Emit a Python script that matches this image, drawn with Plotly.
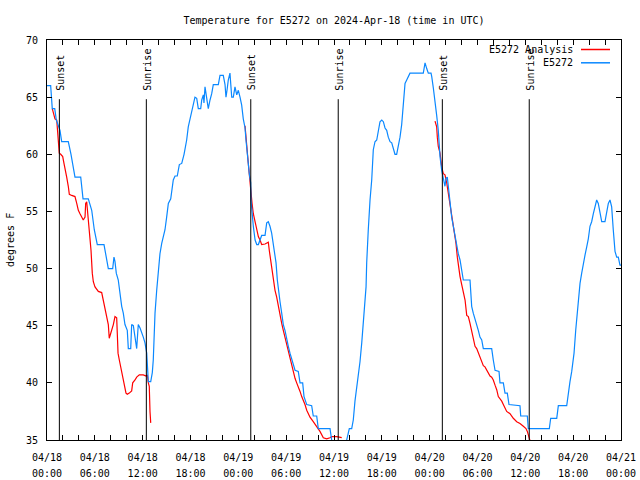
import plotly.graph_objects as go
import pandas as pd

START = pd.Timestamp("2024-04-18 00:00")

# ---- E5272 observations (hours since 04/18 00:00 UTC, degrees F) ----
obs_hours = [0.00, 0.46, 0.66, 0.97, 1.17, 1.63, 1.84, 2.67, 3.01, 3.51, 4.23, 4.52, 5.18, 5.61, 5.93,
             6.31, 7.15, 7.28, 7.69, 8.24, 8.40, 8.53, 8.69, 8.94, 9.16, 9.37, 9.57, 9.78, 10.07, 10.20,
             10.50, 10.62, 10.83, 11.04, 11.25, 11.45, 11.67, 12.08, 12.29, 12.51, 12.58, 12.71, 13.01,
             13.21, 13.33, 13.42, 13.55, 13.76, 13.96, 14.17, 14.39, 14.80, 15.01, 15.22, 15.52, 15.84,
             16.06, 16.34, 16.60, 16.90, 17.19, 17.52, 17.72, 18.03, 18.28, 18.44, 18.56, 18.78, 18.98,
             19.28, 19.41, 19.61, 19.69, 19.82, 20.03, 20.23, 20.45, 20.66, 20.86, 21.49, 21.70, 22.11,
             22.33, 22.45, 22.58, 22.74, 22.95, 23.04, 23.17, 23.37, 23.58, 23.80, 24.00, 24.21, 24.42,
             24.62, 24.84, 24.96, 25.05, 25.25, 25.37, 25.55, 25.59, 25.72, 25.88, 26.10, 26.31, 26.51,
             26.72, 26.93, 27.35, 27.56, 27.76, 27.97, 28.18, 28.39, 28.60, 28.73, 28.89, 29.01, 29.23,
             29.44, 29.64, 29.85, 30.07, 30.27, 30.48, 30.69, 30.90, 31.11, 31.52, 31.74, 32.07, 32.24,
             32.58, 33.20, 33.40, 33.83, 34.03, 35.50, 35.71, 35.87, 37.51, 37.59, 37.79, 37.92, 38.22,
             38.42, 38.63, 38.85, 39.05, 39.26, 39.48, 39.68, 39.89, 40.02, 40.10, 40.18, 40.30, 40.52,
             40.73, 40.93, 41.14, 41.36, 41.56, 41.77, 41.99, 42.19, 42.40, 42.61, 42.81, 43.03, 43.24,
             43.44, 43.65, 43.86, 44.07, 44.28, 44.49, 44.69, 44.91, 45.12, 45.53, 47.20, 47.42, 47.63,
             47.83, 48.17, 48.26, 48.46, 48.67, 48.88, 49.08, 49.30, 49.51, 49.71, 49.92, 50.05, 50.21,
             50.34, 50.46, 50.64, 50.76, 50.97, 51.18, 51.39, 51.59, 51.81, 52.02, 52.22, 53.06, 53.15,
             53.27, 53.47, 53.90, 54.10, 54.31, 54.53, 54.73, 55.78, 55.98, 56.20, 56.70, 56.82, 57.24,
             57.45, 57.74, 57.95, 59.33, 59.42, 60.25, 60.37, 63.01, 63.18, 63.94, 64.14, 65.19, 65.39,
             65.60, 65.82, 65.94, 66.11, 66.32, 66.45, 66.65, 66.86, 67.07, 67.28, 67.49, 67.70, 67.90,
             68.11, 68.32, 68.53, 68.74, 68.95, 69.15, 69.37, 69.58, 69.99, 70.20, 70.41, 70.62, 70.83,
             71.03, 71.25, 71.46, 71.66, 71.87, 72.00]
obs_temp = [66.0, 66.0, 64.0, 64.0, 63.0, 62.1, 61.1, 61.1, 60.0, 58.0, 58.0, 56.1, 56.1, 55.1, 53.4,
            52.1, 52.1, 51.6, 50.0, 50.0, 51.0, 50.6, 49.6, 49.0, 47.5, 46.7, 46.1, 45.1, 44.6, 43.0,
            43.0, 45.1, 45.0, 43.75, 43.0, 45.1, 44.8, 44.0, 43.5, 42.6, 41.4, 40.1, 40.1,
            40.9, 42.0, 44.0, 46.1, 48.1, 49.9, 51.3, 52.2, 53.4, 54.5, 55.7, 56.1, 57.75,
            58.1, 58.1, 59.1, 59.2, 60.0, 61.25, 62.4, 63.3, 64.2, 64.75, 65.0, 64.9, 64.0,
            64.0, 64.75, 65.2, 64.5, 65.9, 65.0, 64.0, 64.75, 65.3, 66.1, 66.1, 66.9, 66.9,
            66.1, 65.0, 65.6, 66.5, 67.1, 66.2, 65.0, 65.0, 65.9, 65.2, 65.6, 65.0, 64.3,
            63.1, 62.3, 61.25, 60.4, 59.2, 58.3, 57.5, 56.0, 54.8, 53.7, 52.5, 52.1, 52.1,
            52.6, 52.9, 52.9, 54.0, 54.1, 53.7, 53.1, 52.2, 51.3, 50.5, 49.0, 48.1, 47.1,
            46.1, 45.1, 44.6, 43.75, 43.2, 42.6, 42.15, 41.7, 41.1, 41.0, 40.0, 40.0, 38.8,
            38.1, 38.0, 37.1, 37.1, 36.0, 36.0, 35.0, 34.0, 34.0, 35.0, 35.6, 36.0, 36.0,
            36.75, 38.4, 39.5, 40.5, 41.85, 43.5, 45.2, 46.7, 48.4, 50.5, 52.2, 53.4, 56.0,
            57.75, 60.4, 61.1, 61.25, 62.1, 62.85, 63.0, 62.85, 62.3, 62.1, 61.5, 61.1, 61.0,
            60.4, 60.0, 60.0, 60.7, 61.5, 62.6, 64.2, 66.2, 66.5, 67.1, 67.1, 68.0, 67.5,
            67.1, 67.1, 66.8, 65.8, 64.75, 63.4, 62.1, 59.8, 58.6, 58.0, 57.2, 57.9, 58.0,
            57.2, 56.3, 55.4, 54.5, 53.7, 52.8, 52.2, 51.3, 50.75, 49.9, 49.0, 49.0, 47.5,
            46.7, 46.1, 45.2, 44.6, 44.0, 43.75, 43.0, 43.0, 42.0, 41.1, 41.0, 40.0, 40.0,
            39.1, 39.1, 38.1, 38.0, 37.1, 37.1, 36.0, 36.0, 36.9, 36.9, 38.0, 38.0, 39.25,
            40.1, 41.0, 41.7, 42.6, 44.6, 45.5, 47.5, 48.7, 49.6, 50.6, 51.2, 51.9, 52.6,
            53.7, 54.1, 54.8, 55.4, 56.0, 55.7, 54.8, 54.1, 54.1, 54.8, 55.7, 56.0, 55.4,
            53.4, 51.5, 51.0, 51.0, 50.3, 50.3]

# ---- E5272 Analysis (three separate runs; None breaks the line) ----
ana_hours = [0.66, 1.00, 1.22, 1.29, 1.42, 1.54, 1.72, 1.97, 2.13, 2.26, 2.47, 2.67, 2.80, 3.10, 3.51,
             3.73, 3.93, 4.14, 4.35, 4.55, 4.77, 4.85, 4.98, 5.18, 5.31, 5.39, 5.52, 5.68, 5.81, 6.02,
             6.23, 6.44, 6.86, 7.06, 7.28, 7.49, 7.69, 7.81, 7.99, 8.12, 8.32, 8.53, 8.74, 8.82, 8.91,
             9.07, 9.24, 9.41, 9.57, 9.78, 9.91, 10.07, 10.32, 10.62, 10.75, 11.04, 11.25, 11.58, 12.08,
             12.42, 12.58, 12.71, 12.83, 12.92, 13.01,
             13.02,
             24.84, 24.96, 25.13, 25.25, 25.37, 25.46, 25.59, 25.72, 25.88, 26.10, 26.31, 26.51, 26.72,
             26.93, 27.35, 27.76, 27.88, 28.06, 28.19, 28.39, 28.60, 28.81, 29.01, 29.23, 29.44, 29.64,
             29.85, 30.07, 30.27, 30.48, 30.69, 30.90, 31.11, 31.32, 31.52, 31.74, 31.95, 32.15, 32.36,
             32.58, 32.78, 32.99, 33.40, 33.83, 34.24, 34.66, 35.08, 35.50, 35.71, 36.34, 36.97,
             36.98,
             48.67, 48.88, 48.96, 49.08, 49.30, 49.51, 49.71, 49.92, 50.14, 50.34, 50.55, 50.76, 50.97,
             51.18, 51.30, 51.47, 51.59, 51.81, 52.02, 52.22, 52.44, 52.65, 52.85, 53.06, 53.27, 53.47,
             53.69, 53.90, 54.10, 54.31, 54.53, 54.73, 54.94, 55.15, 55.36, 55.57, 55.78, 55.98, 56.20,
             56.41, 56.61, 56.82, 57.04, 57.24, 57.45, 57.66, 58.08, 58.49, 58.92, 59.33, 59.75, 60.08,
             60.25, 60.42, 60.67, 60.77]
ana_temp = [64.0, 63.1, 63.0, 62.4, 61.5, 60.1, 60.0, 59.8, 59.2, 58.6, 58.0, 57.2, 56.5, 56.4, 56.3,
            55.7, 55.1, 54.8, 54.5, 54.25, 54.5, 55.7, 55.85, 54.5, 53.4, 52.6, 51.6, 49.6, 48.85, 48.4,
            48.2, 48.0, 47.9, 47.25, 46.7, 45.8, 45.1, 43.9, 44.3, 44.6, 45.1, 45.8, 45.7, 44.3, 42.6,
            42.0, 41.4, 40.8, 40.25, 39.7, 39.1, 39.0, 39.1, 39.3, 40.0, 40.25, 40.5, 40.7, 40.7,
            40.6, 40.7, 40.0, 39.7, 37.5, 36.5,
            None,
            62.5, 61.25, 60.4, 59.2, 58.3, 57.5, 56.6, 55.7, 54.8, 54.0, 53.4, 52.8, 52.5,
            52.1, 52.15, 52.3, 51.6, 50.75, 49.9, 49.0, 48.1, 47.5, 46.7, 46.1, 45.2, 44.6,
            44.0, 43.3, 42.7, 42.15, 41.7, 41.1, 40.4, 40.0, 39.7, 39.25, 38.8, 38.5, 38.1,
            37.6, 37.3, 37.0, 36.6, 36.2, 35.75, 35.2, 35.1, 35.2, 35.3, 35.3, 35.2,
            None,
            62.9, 62.4, 61.5, 60.7, 60.1, 58.9, 58.3, 58.2, 57.5, 56.6, 55.4, 54.5, 53.7,
            52.8, 52.2, 51.0, 50.2, 49.3, 48.6, 48.0, 47.25, 45.9, 45.8, 45.2, 44.6, 43.9,
            43.2, 43.0, 42.6, 42.15, 41.7, 41.5, 41.4, 41.1, 40.8, 40.6, 40.5, 40.25, 39.8,
            39.4, 38.8, 38.65, 38.4, 38.1, 37.8, 37.5, 37.3, 36.9, 36.6, 36.45, 36.2, 36.0,
            35.75, 35.3, 34.9, 34.5]

# ---- Sun events (hours since start) ----
sun_labels = ["Sunset", "Sunrise", "Sunset", "Sunrise", "Sunset", "Sunrise"]
sun_hours = [1.55, 12.46, 25.56, 36.53, 49.59, 60.49]

# ---- Axis ticks ----
y_ticks = [35, 40, 45, 50, 55, 60, 65, 70]
x_tick_hours = list(range(0, 73, 2))
x_date_text = {0: "04/18", 6: "04/18", 12: "04/18", 18: "04/18", 24: "04/19", 30: "04/19",
               36: "04/19", 42: "04/19", 48: "04/20", 54: "04/20", 60: "04/20", 66: "04/20", 72: "04/21"}
x_time_text = {0: "00:00", 6: "06:00", 12: "12:00", 18: "18:00", 24: "00:00", 30: "06:00",
               36: "12:00", 42: "18:00", 48: "00:00", 54: "06:00", 60: "12:00", 66: "18:00", 72: "00:00"}


def to_time(hours):
    return [START + pd.Timedelta(hours=h) for h in hours]


FONT = "DejaVu Sans Mono"
RED = "#ff0000"
BLUE = "#0a88ff"

fig = go.Figure()
fig.add_trace(go.Scatter(x=to_time(ana_hours), y=ana_temp, mode="lines", name="E5272 Analysis",
                         line=dict(color=RED, width=1.2), connectgaps=False))
fig.add_trace(go.Scatter(x=to_time(obs_hours), y=obs_temp, mode="lines", name="E5272",
                         line=dict(color=BLUE, width=1.2)))

shapes = []
annotations = []
for lab, h in zip(sun_labels, sun_hours):
    t = START + pd.Timedelta(hours=h)
    shapes.append(dict(type="line", xref="x", yref="paper", x0=t, x1=t, y0=0, y1=0.852,
                       line=dict(color="black", width=1), layer="above"))
    annotations.append(dict(x=t, y=0.869, xref="x", yref="paper", text=lab, textangle=-90,
                            showarrow=False, xanchor="center", yanchor="bottom", xshift=1,
                            font=dict(family=FONT, size=10, color="black")))

# manual gnuplot-style key (text left of sample line)
for i, (name, col) in enumerate([("E5272 Analysis", RED), ("E5272", BLUE)]):
    py = 49.5 + i * 13.3
    yp = (440 - py) / 400
    annotations.append(dict(x=(575 - 47) / 574, y=yp, xref="paper", yref="paper", text=name,
                            showarrow=False, xanchor="right", yanchor="middle",
                            font=dict(family=FONT, size=10, color="black")))
    shapes.append(dict(type="line", xref="paper", yref="paper", x0=(581 - 47) / 574, x1=(610 - 47) / 574,
                       y0=yp, y1=yp, line=dict(color=col, width=1.5)))

annotations.append(dict(x=(10 - 47) / 574, y=0.5, xref="paper", yref="paper", text="degrees F",
                        textangle=-90, showarrow=False, xanchor="center", yanchor="middle",
                        font=dict(family=FONT, size=10, color="black")))

tickfont = dict(family=FONT, size=10, color="black")
xrange = [START, START + pd.Timedelta(hours=72)]

fig.update_layout(
    width=640, height=480,
    margin=dict(l=47, r=19, t=40, b=40, autoexpand=False),
    paper_bgcolor="white", plot_bgcolor="white",
    font=dict(family=FONT, size=10, color="black"),
    showlegend=False,
    title=dict(text="Temperature for E5272 on 2024-Apr-18 (time in UTC)", x=0.5, xref="paper",
               y=1 - 20 / 480, yref="container", xanchor="center", yanchor="middle",
               font=dict(family=FONT, size=10, color="black")),
    shapes=shapes, annotations=annotations,
    xaxis=dict(type="date", range=xrange, automargin=False,
               tickvals=to_time(x_tick_hours),
               ticktext=[x_date_text.get(h, "") for h in x_tick_hours],
               ticks="inside", ticklen=5, tickcolor="black", tickwidth=1,
               showline=True, linecolor="black", linewidth=1, mirror="ticks",
               showgrid=False, zeroline=False, ticklabelstandoff=8, tickfont=tickfont),
    xaxis2=dict(type="date", range=xrange, automargin=False, overlaying="x", side="bottom",
                anchor="y", matches="x",
                tickvals=to_time(x_tick_hours),
                ticktext=[x_time_text.get(h, "") for h in x_tick_hours],
                ticks="", showline=False, showgrid=False, zeroline=False,
                ticklabelstandoff=26, tickfont=tickfont),
    yaxis=dict(range=[35, 70], tickvals=y_ticks, ticktext=[str(v) for v in y_ticks], automargin=False,
               ticks="inside", ticklen=5, tickcolor="black", tickwidth=1,
               showline=True, linecolor="black", linewidth=1, mirror="ticks",
               showgrid=False, zeroline=False, ticklabelstandoff=6, tickfont=tickfont),
)
# invisible trace so the second x axis (time-of-day labels) is drawn
fig.add_trace(go.Scatter(x=xrange, y=[None, None], xaxis="x2", yaxis="y", mode="lines",
                         showlegend=False, hoverinfo="skip"))

fig.write_html("out.html")
